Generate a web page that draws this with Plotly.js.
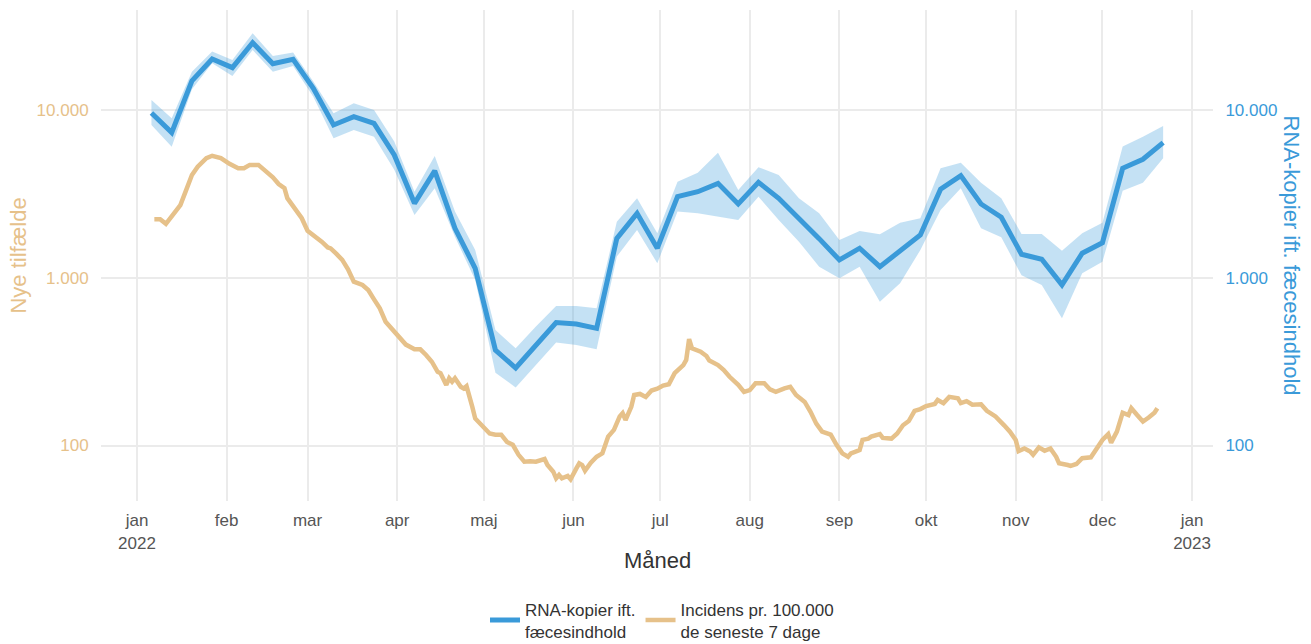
<!DOCTYPE html>
<html>
<head>
<meta charset="utf-8">
<script src="https://cdn.plot.ly/plotly-3.0.1.min.js"></script>
<style>html,body{margin:0;padding:0;background:#fff;}#chart{width:1311px;height:644px;}</style>
</head>
<body>
<div id="chart"></div>
<script>
// RNA-kopier ift. fæcesindhold (weekly)
const rnaDates = ["2022-01-06","2022-01-13","2022-01-20","2022-01-27","2022-02-03","2022-02-10","2022-02-17","2022-02-24",
  "2022-03-03","2022-03-10","2022-03-17","2022-03-24","2022-03-31","2022-04-07","2022-04-14","2022-04-21","2022-04-28",
  "2022-05-05","2022-05-12","2022-05-19","2022-05-26","2022-06-02","2022-06-09","2022-06-16","2022-06-23","2022-06-30",
  "2022-07-07","2022-07-14","2022-07-21","2022-07-28","2022-08-04","2022-08-11","2022-08-18","2022-08-25","2022-09-01",
  "2022-09-08","2022-09-15","2022-09-22","2022-09-29","2022-10-06","2022-10-13","2022-10-20","2022-10-27","2022-11-03",
  "2022-11-10","2022-11-17","2022-11-24","2022-12-01","2022-12-08","2022-12-15","2022-12-22"];
const rnaValues = [9630,7350,14960,20230,17950,25300,18960,20140,13520,8170,9160,8360,5410,2785,4350,1977,1140,
  371,290,400,541,531,500,1722,2427,1503,3050,3265,3664,2760,3716,2985,2270,1714,1279,1503,1166,1466,1803,3380,4076,
  2760,2300,1383,1292,908,1403,1622,4510,5100,6410];
const rnaUpper = [11520,8960,16990,22400,19960,28770,21080,22070,14830,9600,11010,10040,6500,3267,5330,2485,1466,
  488,380,512,679,679,659,2164,2985,1846,3750,4245,5585,3342,4572,4110,2985,2427,1683,1905,1820,2133,2270,4510,4866,
  3700,2985,1828,1828,1452,1846,2133,6070,6950,8060];
const rnaLower = [8170,6060,13340,19060,16020,22890,16990,18370,12050,6810,7630,6960,4410,2372,3425,1762,970,
  272,222,301,411,398,375,1340,1933,1222,2485,2427,2316,2213,3050,2213,1644,1166,996,1166,721,929,1466,2543,3425,
  1977,1746,1037,908,574,1065,1250,3314,3700,5165];

// Incidens pr. 100.000 de seneste 7 dage (daily)
const incDates = ["2022-01-07","2022-01-09","2022-01-11","2022-01-14","2022-01-16","2022-01-18","2022-01-20","2022-01-22",
  "2022-01-25","2022-01-27","2022-01-30","2022-02-02","2022-02-05","2022-02-07","2022-02-09","2022-02-12","2022-02-14",
  "2022-02-17","2022-02-19","2022-02-21","2022-02-22","2022-02-25","2022-02-27","2022-03-01","2022-03-04","2022-03-06",
  "2022-03-08","2022-03-09","2022-03-11","2022-03-13","2022-03-15","2022-03-17","2022-03-20","2022-03-22","2022-03-24",
  "2022-03-26","2022-03-28","2022-03-31","2022-04-02","2022-04-04","2022-04-07","2022-04-09","2022-04-11","2022-04-13",
  "2022-04-15","2022-04-16","2022-04-18","2022-04-19","2022-04-20","2022-04-21","2022-04-23","2022-04-24","2022-04-25",
  "2022-04-26","2022-04-27","2022-04-28","2022-05-01","2022-05-03","2022-05-05","2022-05-07","2022-05-09","2022-05-11",
  "2022-05-13","2022-05-15","2022-05-17","2022-05-19","2022-05-22","2022-05-23","2022-05-25","2022-05-26","2022-05-27",
  "2022-05-28","2022-05-30","2022-05-31","2022-06-02","2022-06-03","2022-06-04","2022-06-05","2022-06-07","2022-06-09",
  "2022-06-11","2022-06-13","2022-06-15","2022-06-17","2022-06-18","2022-06-19","2022-06-21","2022-06-22","2022-06-24",
  "2022-06-26","2022-06-28","2022-06-30","2022-07-02","2022-07-04","2022-07-06","2022-07-09","2022-07-10","2022-07-11",
  "2022-07-12","2022-07-15","2022-07-17","2022-07-18","2022-07-21","2022-07-23","2022-07-25","2022-07-28","2022-07-30",
  "2022-08-01","2022-08-03","2022-08-06","2022-08-08","2022-08-10","2022-08-13","2022-08-15","2022-08-17","2022-08-20",
  "2022-08-22","2022-08-24","2022-08-26","2022-08-28","2022-08-29","2022-08-31","2022-09-02","2022-09-04","2022-09-05",
  "2022-09-08","2022-09-09","2022-09-11","2022-09-12","2022-09-15","2022-09-16","2022-09-19","2022-09-21","2022-09-23",
  "2022-09-25","2022-09-27","2022-09-29","2022-10-01","2022-10-04","2022-10-05","2022-10-07","2022-10-09","2022-10-12",
  "2022-10-13","2022-10-15","2022-10-17","2022-10-20","2022-10-22","2022-10-25","2022-10-28","2022-10-30","2022-11-01",
  "2022-11-02","2022-11-04","2022-11-06","2022-11-07","2022-11-09","2022-11-11","2022-11-13","2022-11-15","2022-11-16",
  "2022-11-19","2022-11-20","2022-11-22","2022-11-24","2022-11-27","2022-11-29","2022-12-01","2022-12-03","2022-12-04",
  "2022-12-06","2022-12-08","2022-12-10","2022-12-11","2022-12-13","2022-12-15","2022-12-17","2022-12-19","2022-12-20"];
const incValues = [2240,2240,2100,2430,2720,3340,4110,4610,5180,5350,5180,4790,4510,4510,4720,4720,4400,
  3980,3630,3430,2990,2520,2270,1910,1750,1640,1520,1500,1390,1280,1125,950,907,847,745,
  659,548,478,440,400,375,375,347,316,275,270,230,252,240,252,224,219,226,
  200,170,145,127,118,116,116,105,101,88,80,80.5,80,83,76.5,69.8,63.7,66.7,
  63.7,65.8,62.8,73,78.3,76.5,70.8,78.9,85.7,89.8,113,124,149,156,142,170,200,203,
  195,213,218,228,232,270,302,324,431,380,363,342,321,302,282,257,230,209,
  214,235,235,216,209,219,224,200,182,159,135,121,118,116,101,89.8,85.7,89.8,
  94,108,110,113,117,111,110,118,132,140,161,165,172,177,187,179,195,191,
  179,184,175,176,161,149,132,121,108,92.7,96,92,88,97.5,93,96,85.7,78.3,
  76.5,75.6,77.6,84,85,96,108,117,104,121,157,152,167,152,139,147,157,167];

const monthTickVals = ["2022-01-01","2022-02-01","2022-03-01","2022-04-01","2022-05-01","2022-06-01","2022-07-01",
  "2022-08-01","2022-09-01","2022-10-01","2022-11-01","2022-12-01","2023-01-01"];
const monthTickText = ["jan<br>2022","feb","mar","apr","maj","jun","jul","aug","sep","okt","nov","dec","jan<br>2023"];
const yTickVals = [100, 1000, 10000];
const yTickText = ["100", "1.000", "10.000"];

const BLUE = "#3A9AD9";
const TAN = "#E6C18A";
const FONT = "Liberation Sans, Arial, sans-serif";

const traces = [
  {x: rnaDates, y: rnaLower, yaxis: "y2", type: "scatter", mode: "lines",
   line: {width: 0, color: BLUE}, showlegend: false, hoverinfo: "skip"},
  {x: rnaDates, y: rnaUpper, yaxis: "y2", type: "scatter", mode: "lines", fill: "tonexty",
   fillcolor: "rgba(58,154,217,0.3)", line: {width: 0, color: BLUE}, showlegend: false, hoverinfo: "skip"},
  {x: rnaDates, y: rnaValues, yaxis: "y2", type: "scatter", mode: "lines",
   name: "RNA-kopier ift.<br>fæcesindhold", line: {color: BLUE, width: 5}},
  {x: incDates, y: incValues, yaxis: "y", type: "scatter", mode: "lines",
   name: "Incidens pr. 100.000<br>de seneste 7 dage", line: {color: TAN, width: 4.5}}
];

const yRange = [1.669, 4.598];
const layout = {
  width: 1311, height: 644,
  margin: {l: 101, r: 98, t: 10, b: 143, autoexpand: false},
  paper_bgcolor: "#fff", plot_bgcolor: "#fff",
  font: {family: FONT, size: 17, color: "#555"},
  xaxis: {
    type: "date",
    range: ["2021-12-19 13:00", "2023-01-08 06:00"],
    tickvals: monthTickVals, ticktext: monthTickText,
    showgrid: true, gridcolor: "#EBEBEB", gridwidth: 2,
    zeroline: false, showline: false, automargin: false,
    ticks: "outside", ticklen: 4, tickcolor: "rgba(0,0,0,0)",
    tickfont: {family: FONT, size: 17, color: "#555"}
  },
  yaxis: {
    type: "log", range: yRange,
    tickvals: yTickVals, ticktext: yTickText,
    showgrid: true, gridcolor: "#EBEBEB", gridwidth: 2,
    zeroline: false, showline: false, automargin: false,
    ticks: "outside", ticklen: 8, tickcolor: "rgba(0,0,0,0)",
    tickfont: {family: FONT, size: 17, color: TAN}
  },
  yaxis2: {
    type: "log", range: yRange, overlaying: "y", side: "right",
    tickvals: yTickVals, ticktext: yTickText,
    showgrid: false, zeroline: false, showline: false, automargin: false,
    ticks: "outside", ticklen: 8, tickcolor: "rgba(0,0,0,0)",
    tickfont: {family: FONT, size: 17, color: BLUE}
  },
  showlegend: true,
  legend: {
    orientation: "h", x: 0.5045, xanchor: "center", y: -0.184, yanchor: "top",
    font: {family: FONT, size: 17, color: "#333"},
    traceorder: "normal", itemwidth: 30
  },
  annotations: [
    {text: "Måned", xref: "paper", yref: "paper", x: 0.5, y: -0.122, xanchor: "center", yanchor: "middle",
     showarrow: false, font: {family: FONT, size: 22, color: "#333"}},
    {text: "Nye tilfælde", xref: "paper", yref: "paper", x: -0.0746, y: 0.5, xanchor: "center", yanchor: "middle",
     textangle: -90, showarrow: false, font: {family: FONT, size: 22, color: TAN}},
    {text: "RNA-kopier ift. fæcesindhold", xref: "paper", yref: "paper", x: 1.071, y: 0.5, xanchor: "center", yanchor: "middle",
     textangle: 90, showarrow: false, font: {family: FONT, size: 22, color: BLUE}}
  ]
};

Plotly.newPlot("chart", traces, layout, {displayModeBar: false, staticPlot: true});
</script>
</body>
</html>
